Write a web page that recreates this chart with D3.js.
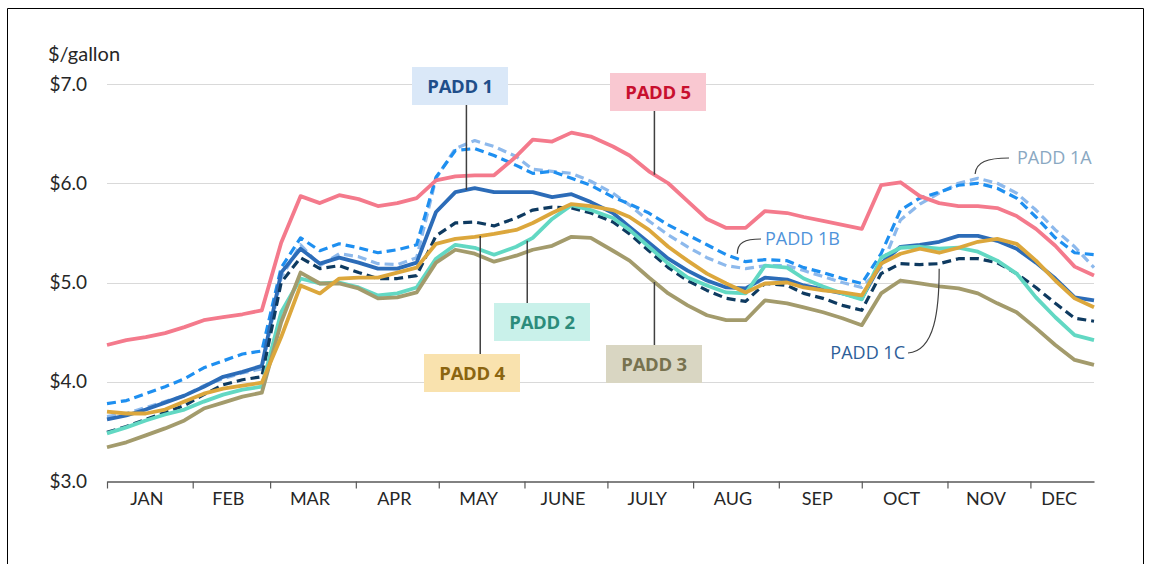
<!DOCTYPE html>
<html>
<head>
<meta charset="utf-8">
<script src="https://cdn.jsdelivr.net/npm/d3@7"></script>
<style>
  body { margin: 0; background: #fff; }
  svg { display: block; font-family: Lato, "Open Sans", sans-serif; }
</style>
</head>
<body>
<svg id="chart" width="1151" height="564"></svg>
<script>
// weekly retail diesel prices, 2022 ($/gallon)
var weeks = ["2022-01-03", "2022-01-10", "2022-01-17", "2022-01-24", "2022-01-31",
    "2022-02-07", "2022-02-14", "2022-02-21", "2022-02-28", "2022-03-07", "2022-03-14",
    "2022-03-21", "2022-03-28", "2022-04-04", "2022-04-11", "2022-04-18", "2022-04-25",
    "2022-05-02", "2022-05-09", "2022-05-16", "2022-05-23", "2022-05-31", "2022-06-06",
    "2022-06-13", "2022-06-20", "2022-06-27", "2022-07-05", "2022-07-11", "2022-07-18",
    "2022-07-25", "2022-08-01", "2022-08-08", "2022-08-15", "2022-08-22", "2022-08-29",
    "2022-09-06", "2022-09-12", "2022-09-19", "2022-09-26", "2022-10-03", "2022-10-10",
    "2022-10-17", "2022-10-24", "2022-10-31", "2022-11-07", "2022-11-14", "2022-11-21",
    "2022-11-28", "2022-12-05", "2022-12-12", "2022-12-19", "2022-12-26"];

var monthLabels = ["JAN", "FEB", "MAR", "APR", "MAY", "JUNE", "JULY", "AUG", "SEP", "OCT", "NOV", "DEC"];
var yTicks = [3, 4, 5, 6, 7];

var padd1 = [3.62, 3.66, 3.72, 3.79, 3.86, 3.95, 4.05, 4.10, 4.16, 5.10, 5.34, 5.19, 5.25,
    5.20, 5.14, 5.14, 5.20, 5.71, 5.91, 5.95, 5.91, 5.91, 5.91, 5.86, 5.89, 5.81, 5.70,
    5.56, 5.40, 5.24, 5.12, 5.02, 4.95, 4.94, 5.05, 5.03, 4.97, 4.93, 4.89, 4.84, 5.19,
    5.36, 5.38, 5.41, 5.47, 5.47, 5.42, 5.34, 5.20, 5.04, 4.85, 4.82];
var padd1a = [3.65, 3.68, 3.74, 3.80, 3.86, 3.96, 4.03, 4.09, 4.13, 5.05, 5.38, 5.17, 5.29,
    5.26, 5.19, 5.18, 5.25, 6.05, 6.35, 6.43, 6.37, 6.27, 6.14, 6.12, 6.10, 6.02, 5.90,
    5.78, 5.62, 5.48, 5.36, 5.25, 5.17, 5.14, 5.17, 5.17, 5.12, 5.06, 5.00, 4.95, 5.15,
    5.63, 5.79, 5.90, 6.00, 6.05, 6.00, 5.90, 5.73, 5.53, 5.36, 5.15];
var padd1b = [3.78, 3.81, 3.88, 3.95, 4.03, 4.14, 4.21, 4.28, 4.31, 5.15, 5.45, 5.32, 5.39,
    5.35, 5.30, 5.33, 5.38, 6.06, 6.33, 6.35, 6.28, 6.18, 6.10, 6.12, 6.05, 5.98, 5.86,
    5.79, 5.70, 5.58, 5.48, 5.38, 5.28, 5.21, 5.23, 5.22, 5.15, 5.10, 5.04, 4.99, 5.29,
    5.73, 5.85, 5.91, 5.98, 6.00, 5.95, 5.85, 5.66, 5.45, 5.30, 5.28];
var padd1c = [3.49, 3.55, 3.62, 3.69, 3.76, 3.87, 3.97, 4.02, 4.05, 5.00, 5.25, 5.14, 5.17,
    5.10, 5.04, 5.04, 5.07, 5.47, 5.60, 5.61, 5.57, 5.65, 5.73, 5.76, 5.75, 5.70, 5.61,
    5.49, 5.32, 5.15, 5.02, 4.92, 4.84, 4.81, 4.99, 4.97, 4.89, 4.84, 4.77, 4.72, 5.09,
    5.19, 5.18, 5.19, 5.24, 5.24, 5.20, 5.09, 4.95, 4.79, 4.64, 4.61];
var padd2 = [3.48, 3.54, 3.61, 3.67, 3.72, 3.80, 3.87, 3.92, 3.95, 4.70, 5.04, 4.99, 5.00,
    4.95, 4.87, 4.89, 4.95, 5.24, 5.38, 5.35, 5.28, 5.36, 5.45, 5.64, 5.78, 5.73, 5.65,
    5.53, 5.36, 5.19, 5.05, 4.97, 4.90, 4.89, 5.17, 5.15, 5.04, 4.96, 4.89, 4.83, 5.25,
    5.35, 5.36, 5.34, 5.35, 5.31, 5.22, 5.09, 4.85, 4.65, 4.47, 4.42];
var padd3 = [3.34, 3.39, 3.46, 3.53, 3.61, 3.73, 3.79, 3.85, 3.89, 4.60, 5.10, 4.99, 4.99,
    4.94, 4.84, 4.85, 4.90, 5.20, 5.33, 5.29, 5.21, 5.27, 5.33, 5.37, 5.46, 5.45, 5.32,
    5.22, 5.05, 4.89, 4.77, 4.67, 4.62, 4.62, 4.82, 4.79, 4.75, 4.70, 4.64, 4.57, 4.89,
    5.02, 4.99, 4.96, 4.94, 4.89, 4.79, 4.70, 4.54, 4.37, 4.22, 4.17];
var padd4 = [3.70, 3.68, 3.68, 3.72, 3.80, 3.88, 3.93, 3.96, 3.99, 4.45, 4.97, 4.89, 5.04,
    5.05, 5.05, 5.10, 5.15, 5.39, 5.44, 5.46, 5.49, 5.53, 5.60, 5.70, 5.79, 5.77, 5.73,
    5.66, 5.53, 5.36, 5.22, 5.09, 4.99, 4.90, 4.99, 5.00, 4.95, 4.92, 4.90, 4.87, 5.19,
    5.29, 5.34, 5.30, 5.35, 5.41, 5.44, 5.39, 5.22, 5.02, 4.84, 4.75];
var padd5 = [4.37, 4.42, 4.45, 4.49, 4.55, 4.62, 4.65, 4.68, 4.72, 5.40, 5.87, 5.80, 5.88,
    5.84, 5.77, 5.80, 5.85, 6.03, 6.07, 6.08, 6.08, 6.27, 6.44, 6.42, 6.51, 6.47, 6.37,
    6.28, 6.12, 6.00, 5.82, 5.64, 5.55, 5.55, 5.72, 5.70, 5.66, 5.62, 5.58, 5.54, 5.98,
    6.01, 5.87, 5.80, 5.77, 5.77, 5.75, 5.67, 5.54, 5.37, 5.16, 5.07];

var parseDate = d3.utcParse("%Y-%m-%d");
var dates = weeks.map(parseDate);

// drawing order: last one ends up on top
var series = [
    { name: "PADD 1A", values: padd1a, color: "#8DB9EC", dash: "9,5", width: 3.2 },
    { name: "PADD 1B", values: padd1b, color: "#1E8FF0", dash: "9,5", width: 3.2 },
    { name: "PADD 1", values: padd1, color: "#2C6CB8", dash: null, width: 3.8 },
    { name: "PADD 1C", values: padd1c, color: "#0E3A60", dash: "9,5", width: 3.2 },
    { name: "PADD 2", values: padd2, color: "#62D8C3", dash: null, width: 3.8 },
    { name: "PADD 3", values: padd3, color: "#A39B6C", dash: null, width: 3.8 },
    { name: "PADD 4", values: padd4, color: "#DCA73C", dash: null, width: 3.8 },
    { name: "PADD 5", values: padd5, color: "#F47A8C", dash: null, width: 3.8 }
];
var byName = {};
series.forEach(function (s) { byName[s.name] = s; });

var svg = d3.select("#chart");

var x = d3.scaleUtc()
    .domain([dates[0], dates[dates.length - 1]])
    .range([107, 1094]);

var y = d3.scaleLinear()
    .domain([3, 7])
    .range([481, 84]);

// outer frame
svg.append("path")
    .attr("d", "M7.5,564 V8.5 H1143.5 V564")
    .attr("fill", "none")
    .attr("stroke", "#000")
    .attr("stroke-width", 1);

// gridlines
svg.append("g")
    .selectAll("line")
    .data(yTicks.slice(1))
    .enter().append("line")
    .attr("x1", x.range()[0])
    .attr("x2", x.range()[1])
    .attr("y1", function (d) { return Math.round(y(d)) + 0.5; })
    .attr("y2", function (d) { return Math.round(y(d)) + 0.5; })
    .attr("stroke", "#D9D9D9")
    .attr("stroke-width", 1.2);

// y labels
svg.append("g")
    .selectAll("text")
    .data(yTicks)
    .enter().append("text")
    .attr("x", 87)
    .attr("y", function (d) { return y(d); })
    .attr("dy", "0.35em")
    .attr("text-anchor", "end")
    .attr("font-size", 19)
    .attr("fill", "#262626")
    .text(function (d) { return "$" + d.toFixed(1); });

svg.append("text")
    .attr("x", 48)
    .attr("y", 61)
    .attr("font-size", 20)
    .attr("fill", "#262626")
    .text("$/gallon");

// x axis: ticks on the same day of each month as the first week
var tickDates = monthLabels.map(function (m, i) { return d3.utcMonth.offset(dates[0], i); });

var xAxis = d3.axisBottom(x)
    .tickValues(tickDates)
    .tickSize(7)
    .tickSizeOuter(0)
    .tickFormat("");

var axisG = svg.append("g")
    .attr("transform", "translate(0," + (Math.round(y(3)) + 0.5) + ")")
    .call(xAxis);
axisG.select(".domain").attr("stroke", "#595959").attr("stroke-width", 1.5);
axisG.selectAll(".tick line").attr("stroke", "#595959").attr("stroke-width", 1.2);

var bounds = tickDates.concat([dates[dates.length - 1]]);
svg.append("g")
    .selectAll("text")
    .data(monthLabels)
    .enter().append("text")
    .attr("x", function (d, i) { return (x(bounds[i]) + x(bounds[i + 1])) / 2 - 3; })
    .attr("y", 505)
    .attr("text-anchor", "middle")
    .attr("font-size", 18)
    .attr("fill", "#262626")
    .text(function (d) { return d; });

// lines
var line = d3.line()
    .x(function (d, i) { return x(dates[i]); })
    .y(function (d) { return y(d); });

svg.append("g")
    .selectAll("path")
    .data(series)
    .enter().append("path")
    .attr("d", function (d) { return line(d.values); })
    .attr("fill", "none")
    .attr("stroke", function (d) { return d.color; })
    .attr("stroke-width", function (d) { return d.width; })
    .attr("stroke-dasharray", function (d) { return d.dash; })
    .attr("stroke-linejoin", "round");

function valueAt(s, day) {
    var t = parseDate(day);
    var i = d3.bisectLeft(dates, t);
    if (i <= 0) return s.values[0];
    var t0 = dates[i - 1], t1 = dates[i];
    var f = (t - t0) / (t1 - t0);
    return s.values[i - 1] + f * (s.values[i] - s.values[i - 1]);
}

// boxed labels with leader lines
var boxes = [
    { name: "PADD 1", day: "2022-05-13", cx: 460, cy: 86, bg: "#DAE8F8", fg: "#1F4E8A" },
    { name: "PADD 5", day: "2022-07-20", cx: 658, cy: 92, bg: "#F9C8D1", fg: "#C8102E" },
    { name: "PADD 2", day: "2022-06-04", cx: 542, cy: 322, bg: "#C9F1EA", fg: "#2C8C7B" },
    { name: "PADD 4", day: "2022-05-18", cx: 472, cy: 373, bg: "#F9E2AE", fg: "#8B6510" },
    { name: "PADD 3", day: "2022-07-20", cx: 654, cy: 364, bg: "#D9D6C2", fg: "#77724F" }
];
var boxW = 96, boxH = 38;

boxes.forEach(function (b) {
    var lx = x(parseDate(b.day));
    var ly = y(valueAt(byName[b.name], b.day));
    var edge = ly > b.cy ? b.cy + boxH / 2 : b.cy - boxH / 2;
    svg.append("line")
        .attr("x1", lx).attr("x2", lx)
        .attr("y1", edge).attr("y2", ly)
        .attr("stroke", "#404040")
        .attr("stroke-width", 1.5);
    svg.append("rect")
        .attr("x", b.cx - boxW / 2)
        .attr("y", b.cy - boxH / 2)
        .attr("width", boxW)
        .attr("height", boxH)
        .attr("fill", b.bg);
    svg.append("text")
        .attr("x", b.cx)
        .attr("y", b.cy)
        .attr("dy", "0.36em")
        .attr("text-anchor", "middle")
        .attr("font-family", "'Open Sans', sans-serif")
        .attr("font-weight", 700)
        .attr("font-size", 18.5)
        .attr("letter-spacing", -0.3)
        .attr("fill", b.fg)
        .text(b.name);
});

// plain labels for the PADD 1 sub-districts
var subLabels = [
    { name: "PADD 1B", day: "2022-08-19", off: -5, tx: 765, ty: 239, anchor: "start", color: "#4F93DA",
        bend: function (x0, y0, tx, ty) { return "M" + x0 + "," + y0 + " C" + x0 + "," + (y0 - 11) + " " + (x0 + 7) + "," + ty + " " + (tx - 4) + "," + ty; } },
    { name: "PADD 1A", day: "2022-11-13", off: -5, tx: 1017, ty: 158, anchor: "start", color: "#8AA8C2",
        bend: function (x0, y0, tx, ty) { return "M" + x0 + "," + y0 + " C" + (x0 + 1) + "," + (y0 - 12) + " " + (x0 + 12) + "," + ty + " " + (tx - 8) + "," + ty; } },
    { name: "PADD 1C", day: "2022-10-31", off: 5, tx: 905, ty: 353, anchor: "end", color: "#2D5E98",
        bend: function (x0, y0, tx, ty) { return "M" + x0 + "," + y0 + " C" + x0 + "," + (y0 + 40) + " " + (x0 - 4) + "," + (ty - 2) + " " + (tx + 3) + "," + ty; } }
];

subLabels.forEach(function (l) {
    var x0 = x(parseDate(l.day));
    var y0 = y(valueAt(byName[l.name], l.day)) + l.off;
    svg.append("path")
        .attr("d", l.bend(x0, y0, l.tx, l.ty))
        .attr("fill", "none")
        .attr("stroke", "#404040")
        .attr("stroke-width", 1.2);
    svg.append("text")
        .attr("x", l.tx)
        .attr("y", l.ty)
        .attr("dy", "0.36em")
        .attr("text-anchor", l.anchor)
        .attr("font-family", "'Open Sans', sans-serif")
        .attr("font-size", 18)
        .attr("fill", l.color)
        .text(l.name);
});
</script>
</body>
</html>
